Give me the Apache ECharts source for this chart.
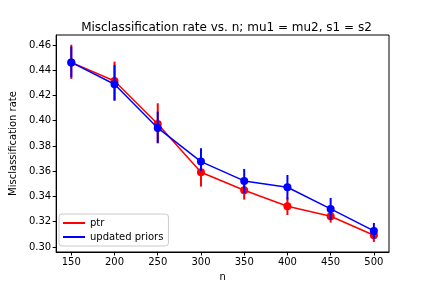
<!DOCTYPE html>
<html><head><meta charset="utf-8">
<script src="https://cdn.jsdelivr.net/npm/echarts@6/dist/echarts.min.js"></script>
<style>html,body{margin:0;padding:0;background:#fff}#c{width:432px;height:288px}</style>
</head><body><div id="c"></div>
<script>
const nValues = [150, 200, 250, 300, 350, 400, 450, 500];
const ptrRate = [0.4462, 0.4315, 0.3974, 0.3592, 0.3449, 0.3322, 0.3243, 0.3093];
const ptrLow  = [0.4331, 0.4160, 0.3825, 0.3478, 0.3375, 0.3253, 0.3193, 0.3040];
const ptrHigh = [0.4602, 0.4468, 0.4138, 0.3706, 0.3523, 0.3391, 0.3293, 0.3146];
const updRate = [0.4462, 0.4289, 0.3943, 0.3676, 0.3523, 0.3473, 0.3301, 0.3127];
const updLow  = [0.4344, 0.4159, 0.3821, 0.3600, 0.3428, 0.3376, 0.3214, 0.3064];
const updHigh = [0.4587, 0.4442, 0.4072, 0.3782, 0.3618, 0.3570, 0.3388, 0.3190];
const xTicks = [150, 200, 250, 300, 350, 400, 450, 500];
const yTicks = [0.30, 0.32, 0.34, 0.36, 0.38, 0.40, 0.42, 0.44, 0.46];

const font = 'DejaVu Sans';
const pts = (ys) => nValues.map((x, i) => [x, ys[i]]);
const bars = (lo, hi) => nValues.map((x, i) => [x, lo[i], hi[i]]);
function errRender(color) {
  return function (params, api) {
    const p1 = api.coord([api.value(0), api.value(1)]);
    const p2 = api.coord([api.value(0), api.value(2)]);
    return {type: 'line', shape: {x1: p1[0], y1: p1[1], x2: p2[0], y2: p2[1]},
      style: {stroke: color, lineWidth: 2}};
  };
}
const chart = echarts.init(document.getElementById('c'), null, {renderer: 'canvas'});
chart.setOption({
  animation: false,
  backgroundColor: '#fff',
  title: {text: 'Misclassification rate vs. n; mu1 = mu2, s1 = s2', left: 221.5, textAlign: 'center', top: 17,
    textStyle: {fontFamily: font, fontSize: 12, fontWeight: 'normal', color: '#000'}},
  grid: {left: 54, right: 43, top: 35, bottom: 36, show: true, borderColor: '#000', borderWidth: 1, backgroundColor: 'transparent'},
  legend: {orient: 'vertical', left: 59, top: 214, padding: [4, 5, 4, 4], itemGap: 4,
    backgroundColor: 'rgba(255,255,255,0.8)', borderColor: '#ccc', borderWidth: 1, borderRadius: 3,
    itemWidth: 22, itemHeight: 2, icon: 'rect',
    textStyle: {fontFamily: font, fontSize: 10, color: '#000'},
    data: [{name: 'ptr', itemStyle: {color: '#ff0000'}}, {name: 'updated priors', itemStyle: {color: '#0000ff'}}]},
  xAxis: {type: 'value', min: 132.5, max: 517.5, name: 'n', nameLocation: 'middle', nameGap: 20,
    nameTextStyle: {fontFamily: font, fontSize: 10, color: '#000'},
    axisLine: {show: true, lineStyle: {color: '#000', width: 1}},
    axisTick: {show: true, length: 3.5, lineStyle: {color: '#000'}, customValues: xTicks},
    axisLabel: {fontFamily: font, fontSize: 10, color: '#000', margin: 5, customValues: xTicks},
    splitLine: {show: false}},
  yAxis: {type: 'value', min: 0.296, max: 0.4679, name: 'Misclassification rate', nameLocation: 'middle', nameGap: 38,
    nameTextStyle: {fontFamily: font, fontSize: 10, color: '#000'},
    axisLine: {show: true, lineStyle: {color: '#000', width: 1}},
    axisTick: {show: true, length: 3.5, lineStyle: {color: '#000'}, customValues: yTicks},
    axisLabel: {fontFamily: font, fontSize: 10, color: '#000', margin: 5, customValues: yTicks,
      formatter: v => v.toFixed(2)},
    splitLine: {show: false}},
  series: [
    {name: 'ptr', type: 'line', data: pts(ptrRate), z: 3, color: '#ff0000',
      symbol: 'circle', symbolSize: 8, showSymbol: true,
      lineStyle: {color: '#ff0000', width: 1.5}, itemStyle: {color: '#ff0000'}},
    {name: 'ptr_err', type: 'custom', data: bars(ptrLow, ptrHigh), z: 2, renderItem: errRender('#ff0000'),
      encode: {x: 0, y: [1, 2]}},
    {name: 'updated priors', type: 'line', data: pts(updRate), z: 5, color: '#0000ff',
      symbol: 'circle', symbolSize: 8, showSymbol: true,
      lineStyle: {color: '#0000ff', width: 1.5}, itemStyle: {color: '#0000ff'}},
    {name: 'upd_err', type: 'custom', data: bars(updLow, updHigh), z: 4, renderItem: errRender('#0000ff'),
      encode: {x: 0, y: [1, 2]}}
  ]
});
</script></body></html>
